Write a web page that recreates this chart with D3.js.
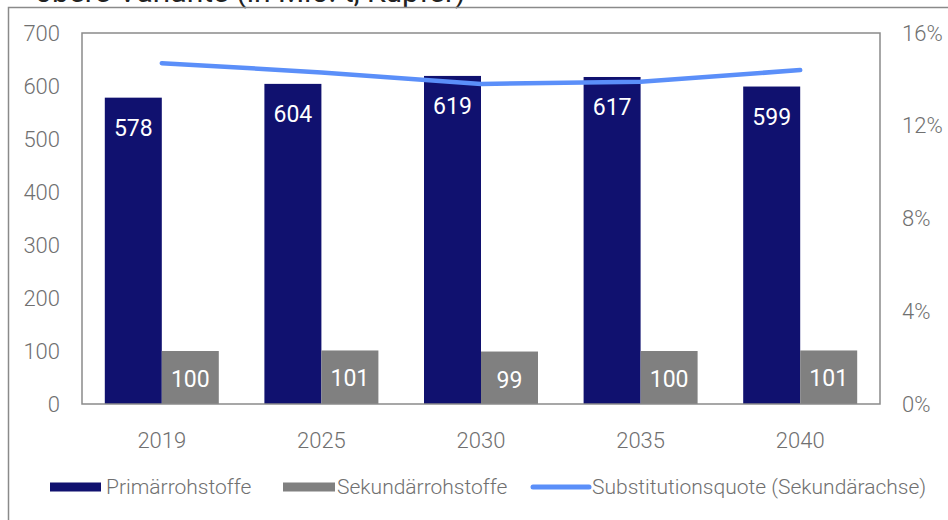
<html>
<head>
<script src="https://d3js.org/d3.v7.min.js"></script>
<style>
  body { margin: 0; background: white; }
  text { font-family: Roboto, "DejaVu Sans", sans-serif; }
  .tick-label { font-size: 22px; font-weight: 300; fill: #707070; }
  .val { font-size: 23px; fill: white; }
  .leg { font-size: 21px; font-weight: 300; fill: #707070; }
</style>
</head>
<body>
<script>
  var years = ["2019", "2025", "2030", "2035", "2040"];
  var primaer = [578, 604, 619, 617, 599];
  var sekundaer = [100, 101, 99, 100, 101];
  var quote = [14.7, 14.3, 13.8, 13.9, 14.4];   // Substitutionsquote in %
  var leftTicks = [0, 100, 200, 300, 400, 500, 600, 700];
  var rightTicks = [0, 4, 8, 12, 16];

  var width = 948, height = 520;
  var plot = {left: 82, right: 880, top: 33, bottom: 404};

  var svg = d3.select("body").append("svg").attr("width", width).attr("height", height);

  // angeschnittener Titel oben
  svg.append("text").attr("x", 35).attr("y", 1.5).attr("font-size", 30)
    .attr("fill", "#222").text("obere Variante (in Mio. t, Kupfer)");

  // äusserer Rahmen
  svg.append("path").attr("d", "M8.5,520V7.5H948").attr("fill", "none")
    .attr("stroke", "#8a8a8a").attr("stroke-width", 1.5);

  var x = d3.scaleBand().domain(years).range([plot.left, plot.right]).paddingInner(0).paddingOuter(0);
  var xs = d3.scaleBand().domain(["p", "s"]).range([0, x.bandwidth()]).paddingInner(0).paddingOuter(0.4);
  var y = d3.scaleLinear().domain([0, 700]).range([plot.bottom, plot.top]);
  var y2 = d3.scaleLinear().domain([0, 16]).range([plot.bottom, plot.top]);

  var g = svg.append("g");

  // Balken Primär
  g.selectAll(".bp").data(years).enter().append("rect")
    .attr("x", function(d) { return x(d) + xs("p"); })
    .attr("y", function(d, i) { return y(primaer[i]); })
    .attr("width", xs.bandwidth())
    .attr("height", function(d, i) { return y(0) - y(primaer[i]); })
    .attr("fill", "#10116f");

  // Balken Sekundär
  g.selectAll(".bs").data(years).enter().append("rect")
    .attr("x", function(d) { return x(d) + xs("s"); })
    .attr("y", function(d, i) { return y(sekundaer[i]); })
    .attr("width", xs.bandwidth())
    .attr("height", function(d, i) { return y(0) - y(sekundaer[i]); })
    .attr("fill", "#808080");

  // Plotrahmen
  svg.append("rect").attr("x", plot.left).attr("y", plot.top)
    .attr("width", plot.right - plot.left).attr("height", plot.bottom - plot.top)
    .attr("fill", "none").attr("stroke", "#8a8a8a").attr("stroke-width", 1.5);

  // Linie Substitutionsquote
  var line = d3.line()
    .x(function(d, i) { return x(years[i]) + x.bandwidth() / 2; })
    .y(function(d) { return y2(d); });
  svg.append("path").datum(quote).attr("d", line).attr("fill", "none")
    .attr("stroke", "#5b8ff9").attr("stroke-width", 4.5).attr("stroke-linecap", "round");

  // Wertbeschriftungen
  svg.selectAll(".vp").data(years).enter().append("text").attr("class", "val")
    .attr("x", function(d) { return x(d) + xs("p") + xs.bandwidth() / 2; })
    .attr("y", function(d, i) { return y(primaer[i]) + 38; })
    .attr("text-anchor", "middle")
    .text(function(d, i) { return primaer[i]; });
  svg.selectAll(".vs").data(years).enter().append("text").attr("class", "val")
    .attr("x", function(d) { return x(d) + xs("s") + xs.bandwidth() / 2; })
    .attr("y", function(d, i) { return y(sekundaer[i]) + 36; })
    .attr("text-anchor", "middle")
    .text(function(d, i) { return sekundaer[i]; });

  // Achsen
  var yAxis = d3.axisLeft(y).tickValues(leftTicks).tickSize(0).tickPadding(22);
  var ga = svg.append("g").attr("transform", "translate(" + plot.left + ",0)").call(yAxis);
  var y2Axis = d3.axisRight(y2).tickValues(rightTicks).tickSize(0).tickPadding(22)
    .tickFormat(function(d) { return d + "%"; });
  var gb = svg.append("g").attr("transform", "translate(" + plot.right + ",0)").call(y2Axis);
  var xAxis = d3.axisBottom(x).tickSize(0).tickPadding(28);
  var gc = svg.append("g").attr("transform", "translate(0," + plot.bottom + ")").call(xAxis);
  [ga, gb, gc].forEach(function(a) {
    a.select(".domain").remove();
    a.selectAll("text").attr("class", "tick-label").attr("font-family", null).attr("font-size", null).attr("fill", null);
  });

  // Legende
  var legY = 487;
  var leg = svg.append("g");
  leg.append("rect").attr("x", 50).attr("y", legY - 4.5).attr("width", 51).attr("height", 9).attr("fill", "#10116f");
  leg.append("text").attr("class", "leg").attr("x", 106).attr("y", legY).attr("dy", "0.35em").text("Primärrohstoffe");
  leg.append("rect").attr("x", 283).attr("y", legY - 4.5).attr("width", 52).attr("height", 9).attr("fill", "#808080");
  leg.append("text").attr("class", "leg").attr("x", 337).attr("y", legY).attr("dy", "0.35em").text("Sekundärrohstoffe");
  leg.append("line").attr("x1", 533).attr("x2", 589).attr("y1", legY).attr("y2", legY)
    .attr("stroke", "#5b8ff9").attr("stroke-width", 5).attr("stroke-linecap", "round");
  leg.append("text").attr("class", "leg").attr("x", 592).attr("y", legY).attr("dy", "0.35em").text("Substitutionsquote (Sekundärachse)");
</script>
</body>
</html>
